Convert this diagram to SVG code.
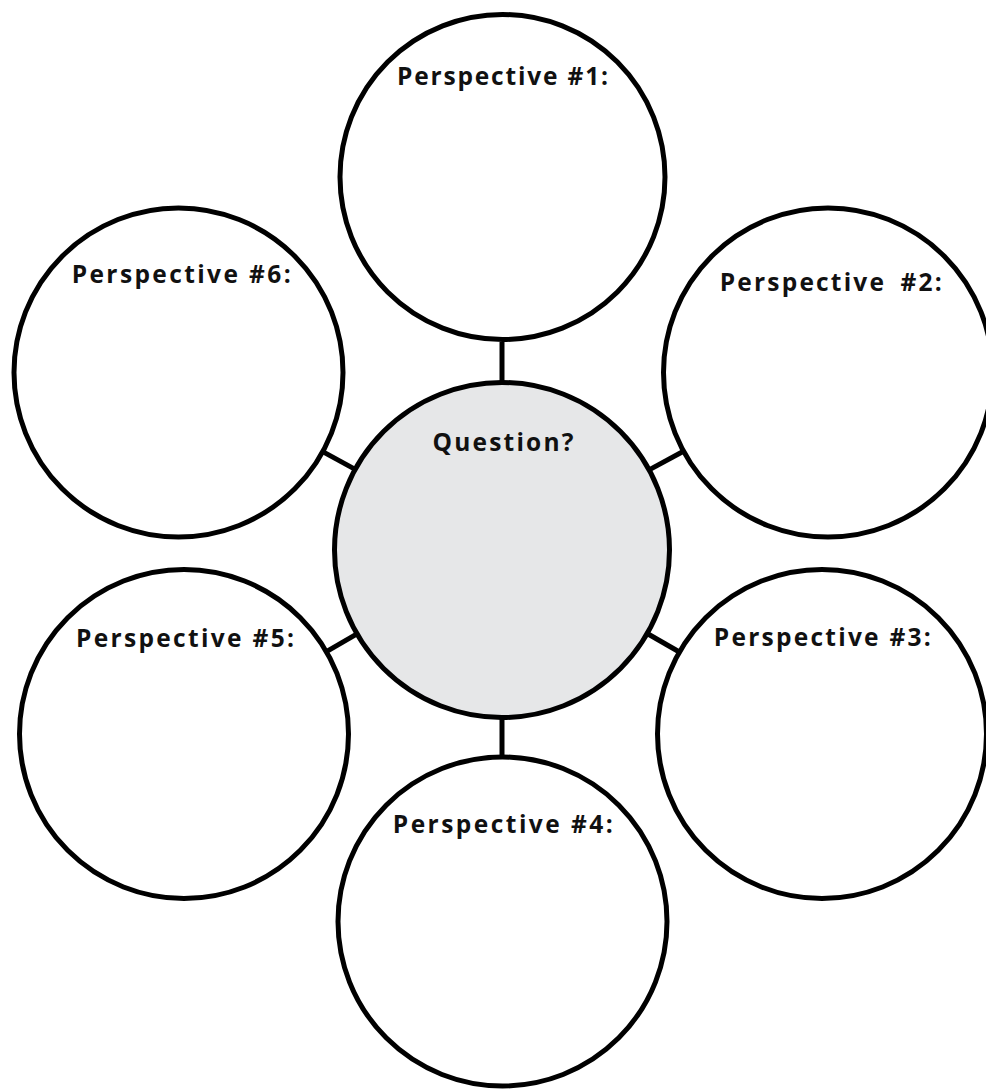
<svg xmlns="http://www.w3.org/2000/svg" width="986" height="1091" viewBox="0 0 986 1091">
<style>
.c{fill:#fff;stroke:#000;stroke-width:5}
.q{fill:#e6e7e8;stroke:#000;stroke-width:5}
.l{stroke:#000;stroke-width:5;fill:none}
.t{font-family:"Open Sans","Liberation Sans",Arial,sans-serif;font-weight:bold;font-size:24.5px;fill:#111;text-anchor:middle}
</style>
<rect width="986" height="1091" fill="#fff"/>
<g id="connectors">
<line class="l" x1="502" y1="342" x2="502" y2="383"/>
<line class="l" x1="502" y1="717" x2="502" y2="757"/>
<line class="l" x1="355.2" y1="469.4" x2="322.7" y2="451.6"/>
<line class="l" x1="649.1" y1="469.9" x2="683.5" y2="451.2"/>
<line class="l" x1="357" y1="633.9" x2="326.4" y2="651.6"/>
<line class="l" x1="647.2" y1="633.5" x2="679.4" y2="652"/>
</g>
<g id="question">
<circle class="q" cx="502" cy="550" r="167.5"/>
<text class="t" x="503" y="451" textLength="141" lengthAdjust="spacing">Question?</text>
</g>
<g id="p1">
<circle class="c" cx="502.5" cy="177" r="162.5"/>
<text class="t" x="502.5" y="85" textLength="211" lengthAdjust="spacing">Perspective #1:</text>
</g>
<g id="p2">
<circle class="c" cx="828" cy="372.5" r="164.5"/>
<text class="t" x="830.8" y="291" textLength="222" lengthAdjust="spacing" word-spacing="6">Perspective #2:</text>
</g>
<g id="p3">
<circle class="c" cx="822" cy="734" r="164.5"/>
<text class="t" x="822.3" y="646" textLength="217" lengthAdjust="spacing">Perspective #3:</text>
</g>
<g id="p4">
<circle class="c" cx="502.5" cy="921.5" r="164.5"/>
<text class="t" x="502.8" y="833" textLength="220" lengthAdjust="spacing">Perspective #4:</text>
</g>
<g id="p5">
<circle class="c" cx="184" cy="734" r="164.5"/>
<text class="t" x="185" y="647" textLength="218" lengthAdjust="spacing">Perspective #5:</text>
</g>
<g id="p6">
<circle class="c" cx="178.5" cy="372.5" r="164.5"/>
<text class="t" x="181.2" y="283" textLength="219" lengthAdjust="spacing">Perspective #6:</text>
</g>
</svg>
